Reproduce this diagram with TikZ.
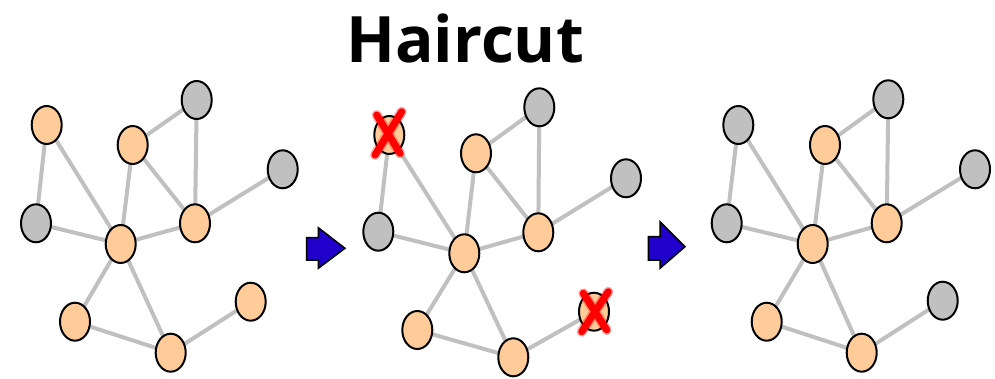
\documentclass[tikz,border=0pt]{standalone}
\usepackage{fontspec}
\newfontfamily\titlefont{Open Sans}
\usetikzlibrary{shapes.geometric,backgrounds}
\definecolor{peach}{RGB}{255,204,153}
\definecolor{grayfill}{RGB}{192,192,192}
\definecolor{edgegray}{RGB}{192,192,192}
\definecolor{arrowblue}{RGB}{34,0,204}
\tikzset{
  vtx/.style={ellipse,draw=black,line width=2pt,minimum width=30pt,minimum height=38pt,inner sep=0pt},
  kept/.style={vtx,fill=peach},
  cut/.style={vtx,fill=grayfill},
  link/.style={draw=edgegray,line width=4pt},
  cross/.style={draw=red,line width=7pt,line cap=round},
  crossglow/.style={draw=red,opacity=0.35,line width=10pt,line cap=round},
  stepper/.style={fill=arrowblue,draw=black,line width=1.5pt,line join=miter}
}
\begin{document}
\begin{tikzpicture}[x=1pt,y=-1pt]
\useasboundingbox (0,0) rectangle (995,379);

% title
\node[anchor=base,inner sep=0pt] (title) at (465,63) {\titlefont\bfseries\fontsize{64}{68}\selectfont Haircut};

% ---- graph before pruning
\node[kept] (a1) at (46.7,125) {};
\node[cut]  (b1) at (196.7,100) {};
\node[kept] (c1) at (132.7,145) {};
\node[cut]  (d1) at (282.7,169.3) {};
\node[cut]  (e1) at (36,223.3) {};
\node[kept] (f1) at (120.7,244) {};
\node[kept] (g1) at (195,223.3) {};
\node[kept] (h1) at (250.7,301.7) {};
\node[kept] (i1) at (75,321.7) {};
\node[kept] (j1) at (170.7,352.7) {};

% ---- graph with marked vertices
\node[kept] (a2) at (389.3,135) {};
\node[cut]  (b2) at (539.3,107.3) {};
\node[kept] (c2) at (476,153.3) {};
\node[cut]  (d2) at (626,178.3) {};
\node[cut]  (e2) at (378.3,231.7) {};
\node[kept] (f2) at (464.3,253.3) {};
\node[kept] (g2) at (538.3,232.3) {};
\node[kept] (h2) at (594,311.7) {};
\node[kept] (i2) at (417.3,330) {};
\node[kept] (j2) at (513.3,357.3) {};

% ---- graph after pruning
\node[cut]  (a3) at (738.3,125) {};
\node[cut]  (b3) at (888.3,99.3) {};
\node[kept] (c3) at (825,145) {};
\node[cut]  (d3) at (975,169.3) {};
\node[cut]  (e3) at (726.7,223.3) {};
\node[kept] (f3) at (812.7,244) {};
\node[kept] (g3) at (886.7,223.3) {};
\node[cut]  (h3) at (942.7,300.7) {};
\node[kept] (i3) at (766.7,321.7) {};
\node[kept] (j3) at (861.7,352.7) {};

% edges behind the vertices
\begin{scope}[on background layer]
\foreach \k in {1,2,3}{
  \foreach \u/\v in {a/e,a/f,c/b,c/f,c/g,b/g,g/d,e/f,f/g,f/i,f/j,i/j,j/h}{
    \path[link] (\u\k.center) -- (\v\k.center);
  }
}
\end{scope}

% red crosses over the marked vertices
\path[crossglow] (376.7,115) -- (400,153.3) (401.7,111.7) -- (375,155);
\path[cross] (376.7,115) -- (400,153.3) (401.7,111.7) -- (375,155);
\path[crossglow] (583.3,293.3) -- (606.7,330) (608.3,291.7) -- (581.7,331.7);
\path[cross] (583.3,293.3) -- (606.7,330) (608.3,291.7) -- (581.7,331.7);

% step arrows
\path[stepper] (306.7,237.7) -- (318.3,237.7) -- (318.3,227.7) -- (345,248.3)
  -- (318.3,268.3) -- (318.3,260) -- (306.7,260) -- cycle;
\path[stepper] (648.3,236.7) -- (660,236.7) -- (660,221.7) -- (685,246.7)
  -- (660,268.3) -- (660,260) -- (648.3,260) -- cycle;
\end{tikzpicture}
\end{document}
